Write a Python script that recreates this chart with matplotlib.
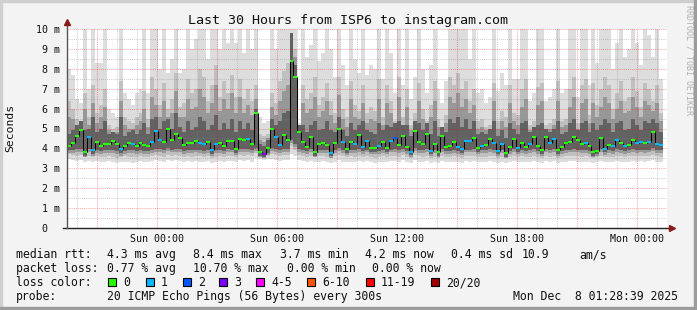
import numpy as np
import matplotlib
matplotlib.use("Agg")
import matplotlib.pyplot as plt
from matplotlib.patches import Rectangle
from matplotlib.transforms import ScaledTranslation

# ---------------- data ----------------
title = "Last 30 Hours from ISP6 to instagram.com"
x_tick_hours = [0, 6, 12, 18, 24]
x_tick_labels = ["Sun 00:00", "Sun 06:00", "Sun 12:00", "Sun 18:00", "Mon 00:00"]
y_tick_values = [0, 1, 2, 3, 4, 5, 6, 7, 8, 9, 10]
y_tick_labels = ["0", "1 m", "2 m", "3 m", "4 m", "5 m", "6 m", "7 m", "8 m", "9 m", "10 m"]

# time window (hours relative to Sun 00:00)
window_start_h = -4.5225
window_end_h = 25.4775
data_span_h = 29.8

# median rtt per step (ms)
median_ms = [
    4.10, 4.25, 4.60, 4.90, 3.80, 4.55, 3.90, 4.30, 4.10, 4.20,
    4.20, 4.35, 4.20, 3.95, 4.10, 4.25, 4.22, 4.12, 4.25, 4.15,
    4.10, 4.34, 4.85, 4.42, 4.30, 5.00, 4.42, 4.70, 4.50, 4.17,
    4.29, 4.29, 4.39, 4.29, 4.22, 4.30, 3.90, 4.20, 4.27, 4.12,
    4.39, 4.39, 3.95, 4.46, 4.42, 4.46, 4.20, 5.80, 3.80, 3.70,
    4.00, 5.00, 4.59, 4.17, 4.67, 4.42, 8.40, 7.60, 4.80, 4.34,
    4.09, 4.55, 3.80, 4.20, 4.27, 4.17, 3.79, 4.29, 5.00, 4.34,
    3.95, 4.30, 4.22, 4.67, 4.09, 4.37, 4.00, 4.00, 4.10, 4.30,
    4.00, 4.39, 4.50, 4.15, 4.60, 4.05, 3.84, 4.89, 4.34, 4.20,
    4.72, 3.89, 4.20, 3.80, 4.62, 4.09, 4.10, 4.34, 4.05, 3.95,
    4.39, 4.38, 4.50, 4.00, 4.12, 4.17, 4.46, 4.29, 3.89, 4.20,
    3.75, 4.05, 4.46, 4.00, 4.27, 4.05, 4.20, 4.59, 4.10, 3.92,
    4.56, 4.29, 4.45, 3.90, 4.09, 4.25, 4.34, 4.58, 4.40, 4.20,
    4.25, 4.12, 3.80, 3.88, 4.51, 3.98, 4.17, 4.12, 4.42, 4.25,
    4.12, 4.17, 4.42, 4.25, 4.34, 4.27, 4.34, 4.84, 4.22, 4.17,
]

# lost pings per step (of 20)
loss_count = [
    0, 0, 0, 0, 0, 1, 1, 0, 0, 0,
    0, 0, 0, 1, 0, 0, 1, 0, 0, 0,
    0, 1, 1, 1, 0, 0, 0, 0, 0, 0,
    0, 0, 0, 1, 1, 0, 1, 1, 0, 0,
    0, 0, 0, 0, 0, 1, 0, 0, 0, 3,
    0, 0, 1, 1, 0, 0, 0, 0, 0, 0,
    0, 0, 0, 0, 0, 0, 1, 0, 0, 1,
    0, 0, 1, 0, 1, 1, 0, 0, 1, 0,
    0, 1, 2, 0, 0, 0, 1, 0, 0, 0,
    0, 1, 0, 0, 0, 0, 0, 0, 1, 1,
    1, 1, 0, 0, 1, 0, 0, 1, 1, 1,
    0, 0, 0, 1, 0, 0, 1, 0, 0, 0,
    0, 1, 1, 0, 0, 0, 0, 0, 0, 0,
    1, 0, 0, 0, 0, 1, 0, 1, 1, 0,
    1, 0, 0, 1, 1, 0, 1, 0, 1, 1,
]

# smoke band 1 (outermost pings): slowest ping per step (ms)
smoke_max = [
    8.0, 7.7, 6.5, 6.3, 10.5, 7.0, 10.5, 8.3, 8.3, 10.5,
    6.0, 5.8, 5.6, 10.5, 6.8, 6.5, 6.2, 6.8, 7.0, 10.5,
    6.8, 10.5, 10.5, 8.0, 10.5, 7.8, 8.5, 10.5, 7.8, 8.0,
    10.5, 9.0, 9.5, 10.5, 10.5, 8.5, 10.5, 10.5, 9.0, 10.5,
    9.3, 10.5, 9.3, 10.5, 8.8, 10.5, 9.0, 10.5, 5.6, 5.3,
    5.4, 10.5, 9.0, 10.5, 10.5, 10.5, 10.5, 10.5, 5.3, 10.5,
    8.6, 9.2, 10.5, 8.4, 8.8, 10.5, 9.0, 7.6, 10.5, 8.2,
    7.2, 10.5, 8.5, 7.8, 10.5, 7.7, 8.2, 8.0, 10.5, 7.5,
    10.5, 8.8, 6.8, 10.5, 7.2, 10.5, 6.5, 7.6, 10.5, 8.0,
    6.8, 8.2, 10.5, 7.0, 6.3, 7.4, 10.5, 10.5, 10.5, 10.5,
    10.5, 8.5, 10.5, 6.8, 7.0, 6.3, 6.6, 10.5, 6.9, 7.8,
    7.2, 10.5, 7.5, 7.5, 10.5, 10.5, 6.4, 6.8, 10.5, 10.5,
    6.4, 6.6, 7.0, 10.5, 6.8, 7.0, 10.5, 10.5, 6.6, 10.5,
    10.5, 7.2, 10.5, 8.3, 10.5, 10.5, 10.5, 8.0, 9.3, 10.5,
    8.6, 9.0, 10.5, 9.3, 8.2, 10.5, 9.7, 8.6, 10.5, 7.5,
]
# fastest ping per step (ms)
smoke_min = [
    3.45, 3.40, 3.35, 3.40, 3.30, 3.35, 3.30, 3.38, 3.32, 3.30,
    3.35, 3.32, 3.28, 3.30, 3.34, 3.30, 3.28, 3.32, 3.35, 3.30,
    3.32, 3.38, 3.40, 3.35, 3.30, 3.42, 3.36, 3.40, 3.38, 3.32,
    3.35, 3.32, 3.36, 3.34, 3.30, 3.35, 3.28, 3.33, 3.36, 3.32,
    3.38, 3.36, 3.30, 3.40, 3.38, 3.40, 3.34, 3.50, 3.45, 3.42,
    3.45, 3.48, 3.40, 3.36, 3.42, 3.40, 3.70, 3.60, 3.40, 3.36,
    3.32, 3.38, 3.30, 3.34, 3.36, 3.32, 3.28, 3.34, 3.40, 3.34,
    3.30, 3.34, 3.32, 3.38, 3.30, 3.35, 3.30, 3.28, 3.32, 3.34,
    3.30, 3.36, 3.38, 3.32, 3.40, 3.30, 3.26, 3.42, 3.34, 3.32,
    3.38, 3.28, 3.32, 3.26, 3.36, 3.30, 3.32, 3.34, 3.30, 3.28,
    3.36, 3.34, 3.38, 3.30, 3.32, 3.32, 3.36, 3.34, 3.28, 3.32,
    3.26, 3.30, 3.36, 3.30, 3.34, 3.30, 3.32, 3.38, 3.32, 3.28,
    3.36, 3.32, 3.36, 3.28, 3.32, 3.34, 3.36, 3.38, 3.34, 3.32,
    3.34, 3.32, 3.28, 3.30, 3.38, 3.30, 3.32, 3.32, 3.36, 3.34,
    3.32, 3.34, 3.38, 3.34, 3.36, 3.34, 3.36, 3.40, 3.34, 3.32,
]

# smoke band 2: upper / lower edge (ms)
smoke_high = [
    6.4, 6.0, 5.5, 5.3, 6.8, 5.6, 7.2, 5.8, 6.2, 7.0,
    5.2, 5.0, 5.1, 7.4, 5.6, 5.4, 5.3, 5.6, 5.8, 6.9,
    5.5, 7.6, 7.0, 6.2, 7.3, 6.0, 6.5, 7.8, 6.1, 6.3,
    7.5, 6.8, 7.0, 8.0, 7.6, 6.4, 7.2, 8.2, 6.6, 7.4,
    6.8, 7.7, 6.6, 7.5, 6.5, 7.0, 6.4, 7.2, 4.7, 4.6,
    4.7, 6.8, 6.3, 7.4, 7.9, 8.3, 9.5, 9.0, 4.8, 7.2,
    6.5, 6.8, 7.6, 6.2, 6.6, 7.3, 6.4, 5.8, 7.6, 6.0,
    5.6, 7.4, 6.2, 5.9, 7.2, 5.8, 6.1, 5.9, 7.5, 5.6,
    7.2, 6.4, 5.4, 7.6, 5.6, 7.0, 5.2, 5.8, 7.3, 6.0,
    5.4, 6.2, 7.4, 5.5, 5.1, 5.7, 7.6, 7.2, 7.8, 7.0,
    7.4, 6.4, 7.0, 5.4, 5.5, 5.1, 5.2, 7.3, 5.4, 5.9,
    5.6, 7.2, 5.8, 5.7, 7.0, 7.5, 5.2, 5.4, 7.1, 7.3,
    5.2, 5.3, 5.5, 7.4, 5.4, 5.5, 7.0, 7.6, 5.3, 7.2,
    7.5, 5.7, 7.3, 6.2, 7.0, 7.6, 7.2, 6.0, 6.8, 7.4,
    6.4, 6.6, 7.6, 6.9, 6.1, 7.3, 7.0, 6.4, 7.2, 5.8,
]
smoke_low = [
    3.70, 3.65, 3.62, 3.66, 3.55, 3.60, 3.56, 3.62, 3.58, 3.56,
    3.60, 3.58, 3.54, 3.56, 3.60, 3.56, 3.55, 3.58, 3.60, 3.56,
    3.58, 3.62, 3.66, 3.60, 3.56, 3.68, 3.62, 3.66, 3.64, 3.58,
    3.60, 3.58, 3.62, 3.60, 3.56, 3.60, 3.54, 3.58, 3.62, 3.58,
    3.64, 3.62, 3.56, 3.66, 3.64, 3.66, 3.60, 3.78, 3.62, 3.58,
    3.62, 3.74, 3.66, 3.62, 3.68, 3.66, 4.10, 3.90, 3.66, 3.62,
    3.58, 3.64, 3.55, 3.60, 3.62, 3.58, 3.54, 3.60, 3.66, 3.60,
    3.56, 3.60, 3.58, 3.64, 3.56, 3.60, 3.56, 3.54, 3.58, 3.60,
    3.56, 3.62, 3.64, 3.58, 3.66, 3.56, 3.52, 3.68, 3.60, 3.58,
    3.64, 3.54, 3.58, 3.52, 3.62, 3.56, 3.58, 3.60, 3.56, 3.54,
    3.62, 3.60, 3.64, 3.56, 3.58, 3.58, 3.62, 3.60, 3.54, 3.58,
    3.52, 3.56, 3.62, 3.56, 3.60, 3.56, 3.58, 3.64, 3.58, 3.54,
    3.62, 3.58, 3.62, 3.54, 3.58, 3.60, 3.62, 3.64, 3.60, 3.58,
    3.60, 3.58, 3.54, 3.56, 3.64, 3.56, 3.58, 3.58, 3.62, 3.60,
    3.58, 3.60, 3.64, 3.60, 3.62, 3.60, 3.62, 3.66, 3.60, 3.58,
]

# smoke band 3: upper / lower edge (ms)
smoke_mid = [
    5.6, 5.5, 5.0, 4.9, 6.0, 5.2, 6.3, 5.3, 5.6, 6.1,
    4.9, 4.8, 4.8, 6.4, 5.2, 5.0, 5.0, 5.2, 5.4, 6.0,
    5.1, 6.6, 6.2, 5.6, 6.4, 5.6, 5.8, 6.9, 5.6, 5.6,
    6.5, 6.0, 6.1, 7.0, 6.6, 5.8, 6.3, 7.2, 5.9, 6.5,
    6.0, 6.8, 5.8, 6.6, 5.8, 6.2, 5.7, 6.5, 4.4, 4.3,
    4.5, 6.1, 5.7, 6.4, 6.9, 7.2, 9.8, 8.6, 5.0, 6.3,
    5.8, 6.0, 6.6, 5.6, 5.9, 6.4, 5.7, 5.3, 6.7, 5.5,
    5.1, 6.5, 5.6, 5.5, 6.3, 5.3, 5.5, 5.4, 6.5, 5.2,
    6.3, 5.8, 5.1, 6.6, 5.2, 6.1, 4.9, 5.4, 6.4, 5.5,
    5.1, 5.6, 6.4, 5.1, 4.9, 5.3, 6.6, 6.3, 6.8, 6.1,
    6.5, 5.8, 6.2, 5.0, 5.1, 4.9, 5.0, 6.4, 5.0, 5.4,
    5.1, 6.3, 5.4, 5.2, 6.1, 6.5, 4.9, 5.1, 6.2, 6.4,
    5.0, 5.0, 5.2, 6.4, 5.1, 5.2, 6.1, 6.6, 5.0, 6.3,
    6.5, 5.3, 6.3, 5.6, 6.1, 6.6, 6.3, 5.5, 6.0, 6.4,
    5.8, 5.9, 6.6, 6.1, 5.6, 6.4, 6.2, 5.9, 6.3, 5.4,
]
smoke_low2 = [
    3.78, 3.78, 3.80, 3.82, 3.55, 3.80, 3.60, 3.78, 3.74, 3.76,
    3.76, 3.78, 3.74, 3.64, 3.74, 3.78, 3.76, 3.74, 3.78, 3.74,
    3.72, 3.78, 3.84, 3.80, 3.76, 3.86, 3.80, 3.84, 3.80, 3.74,
    3.78, 3.76, 3.80, 3.78, 3.74, 3.78, 3.60, 3.76, 3.78, 3.74,
    3.80, 3.80, 3.66, 3.84, 3.80, 3.82, 3.76, 3.88, 3.55, 3.50,
    3.66, 3.86, 3.80, 3.76, 3.84, 3.80, 4.25, 4.05, 3.84, 3.78,
    3.74, 3.80, 3.56, 3.76, 3.78, 3.76, 3.54, 3.78, 3.86, 3.78,
    3.66, 3.78, 3.76, 3.82, 3.72, 3.80, 3.70, 3.70, 3.74, 3.78,
    3.70, 3.80, 3.82, 3.76, 3.82, 3.72, 3.58, 3.86, 3.78, 3.76,
    3.84, 3.60, 3.76, 3.55, 3.82, 3.74, 3.74, 3.78, 3.72, 3.66,
    3.80, 3.80, 3.82, 3.70, 3.76, 3.76, 3.82, 3.78, 3.60, 3.76,
    3.52, 3.72, 3.82, 3.70, 3.78, 3.72, 3.76, 3.82, 3.74, 3.64,
    3.82, 3.78, 3.82, 3.62, 3.74, 3.78, 3.80, 3.82, 3.80, 3.76,
    3.78, 3.74, 3.55, 3.60, 3.82, 3.68, 3.76, 3.74, 3.80, 3.78,
    3.74, 3.76, 3.80, 3.78, 3.80, 3.78, 3.80, 3.86, 3.78, 3.76,
]

# smoke band 4 (densest pings around the median): upper / lower edge (ms)
smoke_core = [
    4.7, 4.9, 5.2, 5.4, 4.9, 5.0, 5.6, 4.8, 5.0, 5.4,
    4.7, 4.8, 4.7, 5.6, 4.6, 4.8, 4.9, 4.7, 4.9, 5.3,
    4.7, 5.5, 5.6, 5.0, 5.4, 5.5, 5.0, 5.8, 5.1, 4.8,
    5.4, 4.9, 5.1, 5.6, 5.4, 4.9, 5.2, 5.7, 4.9, 5.3,
    5.0, 5.5, 4.8, 5.4, 5.0, 5.3, 4.9, 6.0, 4.2, 4.1,
    4.4, 5.5, 5.2, 5.4, 5.8, 5.9, 9.8, 8.2, 5.2, 5.2,
    4.8, 5.2, 5.4, 4.9, 5.0, 5.4, 4.9, 4.8, 5.6, 4.9,
    4.6, 5.3, 4.9, 5.2, 5.4, 4.9, 4.8, 4.7, 5.3, 4.9,
    5.2, 5.1, 5.3, 5.4, 5.2, 5.2, 4.6, 5.4, 5.3, 4.9,
    5.3, 4.7, 5.4, 4.6, 5.1, 4.8, 5.5, 5.3, 5.6, 5.1,
    5.5, 5.0, 5.4, 4.7, 4.8, 4.7, 5.0, 5.4, 4.6, 4.9,
    4.5, 5.3, 5.0, 4.7, 5.3, 5.4, 4.8, 5.1, 5.2, 5.3,
    5.0, 4.8, 5.0, 5.4, 4.7, 4.8, 5.3, 5.5, 4.9, 5.3,
    5.4, 4.8, 5.3, 4.9, 5.2, 5.5, 5.3, 4.8, 5.3, 5.4,
    4.9, 5.0, 5.5, 5.2, 4.9, 5.4, 5.3, 5.5, 5.3, 4.8,
]
smoke_low3 = [
    3.90, 3.92, 3.95, 3.98, 3.62, 3.95, 3.70, 3.92, 3.88, 3.90,
    3.90, 3.92, 3.88, 3.75, 3.88, 3.92, 3.90, 3.88, 3.92, 3.88,
    3.86, 3.92, 3.98, 3.95, 3.90, 4.00, 3.94, 3.98, 3.95, 3.88,
    3.92, 3.90, 3.94, 3.92, 3.88, 3.92, 3.70, 3.90, 3.92, 3.88,
    3.95, 3.94, 3.76, 3.98, 3.95, 3.96, 3.90, 4.00, 3.62, 3.55,
    3.78, 4.00, 3.95, 3.90, 3.98, 3.95, 4.40, 4.20, 3.98, 3.92,
    3.88, 3.95, 3.62, 3.90, 3.92, 3.90, 3.60, 3.92, 4.00, 3.92,
    3.76, 3.92, 3.90, 3.96, 3.86, 3.94, 3.82, 3.82, 3.88, 3.92,
    3.82, 3.94, 3.96, 3.90, 3.96, 3.86, 3.66, 4.00, 3.92, 3.90,
    3.98, 3.70, 3.90, 3.62, 3.96, 3.88, 3.88, 3.92, 3.86, 3.76,
    3.94, 3.94, 3.96, 3.82, 3.90, 3.90, 3.96, 3.92, 3.70, 3.90,
    3.58, 3.86, 3.96, 3.82, 3.92, 3.86, 3.90, 3.96, 3.88, 3.74,
    3.96, 3.92, 3.96, 3.72, 3.88, 3.92, 3.94, 3.96, 3.94, 3.90,
    3.92, 3.88, 3.62, 3.70, 3.96, 3.80, 3.90, 3.88, 3.95, 3.92,
    3.88, 3.90, 3.95, 3.92, 3.94, 3.92, 3.94, 4.00, 3.92, 3.90,
]

loss_colors = {0: "#26ff00", 1: "#00b8ff", 2: "#0059ff", 3: "#7e00ff",
               4: "#ff00ff", 6: "#ff5500", 11: "#ff0000", 20: "#a10000"}
loss_legend = [("0", "#26ff00"), ("1", "#00b8ff"), ("2", "#0059ff"), ("3", "#7e00ff"),
               ("4-5", "#ff00ff"), ("6-10", "#ff5500"), ("11-19", "#ff0000"), ("20/20", "#a10000")]

stats_rtt = ["median rtt:", "4.3 ms avg", "8.4 ms max", "3.7 ms min", "4.2 ms now",
             "0.4 ms sd", "10.9", "am/s"]
stats_loss = ["packet loss:", "0.77 % avg", "10.70 % max", "0.00 % min", "0.00 % now"]
probe_text = ["probe:", "20 ICMP Echo Pings (56 Bytes) every 300s", "Mon Dec  8 01:28:39 2025"]

# ---------------- figure ----------------
W, H = 697, 310
DPI = 100
MONO = "DejaVu Sans Mono"
fig = plt.figure(figsize=(W / DPI, H / DPI), dpi=DPI, facecolor="#f3f3f3")

def fx(px):
    return px / W

def fy(py):
    return 1 - py / H

# 3D-ish frame
fig.patches.append(Rectangle((0, fy(2)), 1, 2 / H, transform=fig.transFigure, color="#cfcfcf", zorder=0))
fig.patches.append(Rectangle((0, 0), 2 / W, 1, transform=fig.transFigure, color="#cfcfcf", zorder=0))
fig.patches.append(Rectangle((fx(W - 3), 0), 3 / W, 1, transform=fig.transFigure, color="#9c9c9c", zorder=0))
fig.patches.append(Rectangle((0, 0), 1, 3 / H, transform=fig.transFigure, color="#9c9c9c", zorder=0))

ax = fig.add_axes([fx(67), fy(228), fx(667) - fx(67), fy(29) - fy(228)])
ax.set_facecolor("white")
ax.set_xlim(window_start_h, window_end_h)
ax.set_ylim(0, 10)
for s in ax.spines.values():
    s.set_visible(False)

N = len(median_ms)
step_h = data_span_h / N
t = window_start_h + step_h * np.arange(N)
edges = np.append(t, t[-1] + step_h)

def ext(a):
    a = np.asarray(a, dtype=float)
    return np.append(a, a[-1])

bands = [
    (smoke_min, smoke_max, "#dddddd"),
    (smoke_low, smoke_high, "#c0c0c0"),
    (smoke_low2, smoke_mid, "#989898"),
    (smoke_low3, smoke_core, "#626262"),
]
for k, (lo_, hi_, col) in enumerate(bands):
    ax.fill_between(edges, ext(lo_), ext(hi_), step="post", color=col, lw=0, zorder=1 + 0.1 * k)

# grid (drawn over the smoke)
grid_red = (1, 0, 0, 0.33)
grid_gray = (0.5, 0.5, 0.5, 0.35)
dots = (0, (1, 1))
for h in range(-4, 26):
    ax.axvline(h, color=grid_red if h % 3 == 0 else grid_gray, lw=0.75, ls=dots, zorder=2)
for k in range(1, 21):
    ax.axhline(k * 0.5, color=grid_red if k % 2 == 0 else grid_gray, lw=0.75, ls=dots, zorder=2)

# median line
med = np.asarray(median_ms)
ax.vlines(t[1:], np.minimum(med[:-1], med[1:]), np.maximum(med[:-1], med[1:]),
          color="black", lw=0.75, zorder=3)

def lc(n):
    c = loss_colors[0]
    for k in sorted(loss_colors):
        if n >= k:
            c = loss_colors[k]
    return c

ax.hlines(med, t, t + step_h, colors=[lc(n) for n in loss_count], lw=1.5, zorder=4)

# axes lines with arrows
ax.plot([-0.006, 1.008], [0, 0], transform=ax.transAxes, color="#222222", lw=1, clip_on=False, zorder=5)
ax.plot([0, 0], [0, 1.03], transform=ax.transAxes, color="#555555", lw=1, clip_on=False, zorder=5)
ax.plot([0], [1.035], transform=ax.transAxes, marker="^", color="#8b1a1a", ms=4.5, clip_on=False, zorder=6)
ax.plot([1.009], [0], transform=ax.transAxes, marker=">", color="#8b1a1a", ms=4.5, clip_on=False, zorder=6)

# ticks
ax.set_xticks(x_tick_hours, x_tick_labels)
ax.set_yticks(y_tick_values, y_tick_labels)
ax.tick_params(axis="both", length=0, labelsize=7.2, colors="#111111")
ax.tick_params(axis="y", pad=5.2)
ax.tick_params(axis="x", pad=4.2)
for lab in ax.get_xticklabels() + ax.get_yticklabels():
    lab.set_fontfamily(MONO)
for tick in ax.yaxis.get_major_ticks():
    if tick.get_loc() == 0:
        tick.label1.set_transform(tick.label1.get_transform() +
                                  ScaledTranslation(-12.2 / DPI, 0, fig.dpi_scale_trans))

# texts
fig.text(fx(347.5), fy(24), title, family=MONO, fontsize=9.6, ha="center", va="baseline", color="#111111")
fig.text(fx(10.5), fy(127.5), "Seconds", family=MONO, fontsize=8.2, rotation=90,
         ha="center", va="center", color="#111111")
fig.text(fx(688.5), fy(5), "RRDTOOL / TOBI OETIKER", family=MONO, fontsize=6.0, rotation=270,
         ha="center", va="top", color="#b0b0b0")

LF = 8.3
rtt_x = [16, 107.3, 193.3, 279.5, 365, 451, 521.7, 579.3]
for s, x in zip(stats_rtt, rtt_x):
    fig.text(fx(x), fy(258.3), s, family=MONO, fontsize=LF, ha="left", va="baseline", color="#111111")
loss_x = [16, 107.3, 193.3, 286.7, 372.3]
for s, x in zip(stats_loss, loss_x):
    fig.text(fx(x), fy(272.3), s, family=MONO, fontsize=LF, ha="left", va="baseline", color="#111111")
fig.text(fx(16), fy(286.3), "loss color:", family=MONO, fontsize=LF, ha="left", va="baseline", color="#111111")
box_x = [108.3, 145.7, 182.7, 219, 255.7, 307.3, 365.7, 430.7]
lab_x = [123.3, 160.7, 197.7, 234.3, 271, 322.3, 380.7, 446]
for (lab, col), bx, tx in zip(loss_legend, box_x, lab_x):
    fig.patches.append(Rectangle((fx(bx), fy(285.5)), 8 / W, 8 / H, transform=fig.transFigure,
                                 facecolor=col, edgecolor="black", lw=0.8, zorder=3))
    fig.text(fx(tx), fy(286.3), lab, family=MONO, fontsize=LF, ha="left", va="baseline", color="#111111")
probe_x = [16, 107.3, 512.7]
for s, x in zip(probe_text, probe_x):
    fig.text(fx(x), fy(300.3), s, family=MONO, fontsize=LF, ha="left", va="baseline", color="#111111")

fig.savefig("out.png", dpi=DPI, facecolor=fig.get_facecolor())
